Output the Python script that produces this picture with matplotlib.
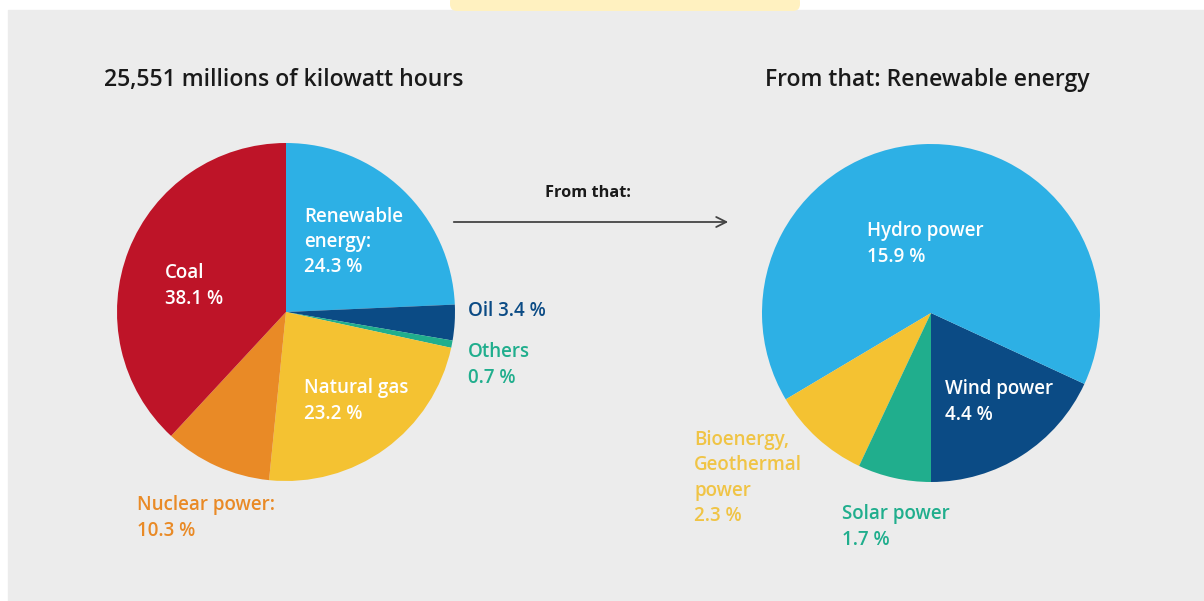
import matplotlib
matplotlib.use("Agg")
import matplotlib.pyplot as plt
from matplotlib.patches import Rectangle, FancyBboxPatch

W, H = 1204, 601

# left pie: total electricity mix (%), clockwise from 12 o'clock
mix_labels = ["Renewable energy", "Oil", "Others", "Natural gas", "Nuclear power", "Coal"]
mix_values = [24.3, 3.4, 0.7, 23.2, 10.3, 38.1]
mix_colors = ["#2db0e5", "#0b4b85", "#20ae8d", "#f4c232", "#e98a26", "#be1428"]

# right pie: renewable split (%), counter-clockwise from 6 o'clock
ren_labels = ["Wind power", "Hydro power", "Bioenergy, Geothermal power", "Solar power"]
ren_values = [4.4, 15.9, 2.3, 1.7]
ren_colors = ["#0b4b85", "#2db0e5", "#f4c232", "#20ae8d"]

total_kwh = "25,551"

plt.rcParams["font.family"] = ["Open Sans", "DejaVu Sans"]

fig = plt.figure(figsize=(W / 100, H / 100), dpi=100)
ax = fig.add_axes([0, 0, 1, 1])


def Y(y):
    # image pixel row -> data y (upward)
    return H - y


# backdrop
ax.add_patch(Rectangle((8, 0), W - 8, Y(10), color="#ececec", zorder=0))
ax.add_patch(FancyBboxPatch((450, Y(11)), 350, 16, boxstyle="round,pad=0,rounding_size=7",
                            color="#fff1c0", ec="none", zorder=0))

ax.pie(mix_values, colors=mix_colors, startangle=90, counterclock=False,
       center=(286, Y(312)), radius=169, wedgeprops=dict(linewidth=0))
ax.pie(ren_values, colors=ren_colors, startangle=-90, counterclock=True,
       center=(931, Y(313)), radius=169, wedgeprops=dict(linewidth=0))

ax.set_xlim(0, W)
ax.set_ylim(0, H)
ax.set_aspect("auto")
ax.set_axis_off()

fs = 13.5
tkw = dict(fontsize=fs, ha="left", va="center", linespacing=1.35)


def label(x, y, s, color, weight="semibold"):
    ax.text(x, Y(y), s, color=color, fontweight=weight, **tkw)


ax.text(104, Y(80), f"{total_kwh} millions of kilowatt hours", fontsize=16.6,
        fontweight="semibold", color="#1a1a1a", ha="left", va="center")
ax.text(765, Y(80), "From that: Renewable energy", fontsize=16.6,
        fontweight="semibold", color="#1a1a1a", ha="left", va="center")

label(304, 242, f"Renewable\nenergy:\n{mix_values[0]} %", "white")
label(165, 286, f"Coal\n{mix_values[5]} %", "white")
label(468, 311, f"Oil {mix_values[1]} %", mix_colors[1])
label(468, 365, f"Others\n{mix_values[2]} %", mix_colors[2])
label(304, 401, f"Natural gas\n{mix_values[3]} %", "white")
label(137, 518, f"Nuclear power:\n{mix_values[4]} %", mix_colors[4])

ax.text(545, Y(193), "From that:", fontsize=11.8, fontweight="bold", color="#1a1a1a",
        ha="left", va="center")
ax.annotate("", xy=(731, Y(222)), xytext=(451, Y(222)),
            arrowprops=dict(arrowstyle="->", color="#444444", lw=1.3,
                            mutation_scale=18))

label(867, 244, f"Hydro power\n{ren_values[1]} %", "white")
label(945, 402, f"Wind power\n{ren_values[0]} %", "white")
label(694, 478, f"Bioenergy,\nGeothermal\npower\n{ren_values[2]} %", "#f0c445")
label(842, 527, f"Solar power\n{ren_values[3]} %", ren_colors[3])

fig.savefig("out.png", dpi=100, facecolor="white")
